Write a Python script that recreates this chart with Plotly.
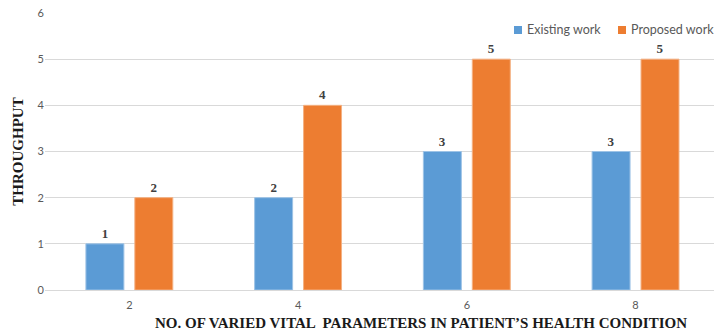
import plotly.graph_objects as go

# Throughput by number of varied vital parameters
categories = ["2", "4", "6", "8"]
existing_work = [1, 2, 3, 3]
proposed_work = [2, 4, 5, 5]
y_ticks = [0, 1, 2, 3, 4, 5, 6]
series_names = ["Existing work", "Proposed work"]

BLUE = "#5B9BD5"
ORANGE = "#ED7D31"
GRID = "#D9D9D9"
TICK = "#595959"
SANS = "Lato, Liberation Sans, sans-serif"
SERIF = "Liberation Serif, Times New Roman, serif"
LABEL_FONT = dict(family=SERIF, size=13, color="#404040")

# plot-area geometry in pixels (figure is 714 x 334)
W, H = 714, 334
L, T, B = 45, 13, 44
PW, PH = W - L, H - T - B


def px_x(p):
    return (p - L) / PW


def px_y(p):
    return (H - B - p) / PH


fig = go.Figure()
for name, vals, col, edge in [
    (series_names[0], existing_work, BLUE, "#9DC3E6"),
    (series_names[1], proposed_work, ORANGE, "#F4B183"),
]:
    fig.add_trace(go.Bar(
        x=categories, y=vals, name=name,
        marker=dict(color=col, line=dict(color=edge, width=1)),
        text=[f"<b>{v}</b>" for v in vals], textposition="outside",
        textfont=LABEL_FONT, cliponaxis=False, showlegend=False,
    ))

# compact legend in the top-right corner
shapes = []
annotations = []
for name, col, sq_left in [(series_names[0], BLUE, 514), (series_names[1], ORANGE, 618)]:
    shapes.append(dict(
        type="rect", xref="paper", yref="paper",
        x0=px_x(sq_left), x1=px_x(sq_left + 8), y0=px_y(34), y1=px_y(26),
        fillcolor=col, line=dict(width=0),
    ))
    annotations.append(dict(
        text=name, xref="paper", yref="paper",
        x=px_x(sq_left + 11), y=px_y(30), xanchor="left", yanchor="middle",
        showarrow=False, font=dict(family=SANS, size=12.5, color=TICK),
    ))

annotations.append(dict(
    text="<b>NO. OF VARIED VITAL  PARAMETERS IN PATIENT\u2019S HEALTH CONDITION</b>",
    xref="paper", yref="paper", x=px_x(421), y=px_y(323),
    xanchor="center", yanchor="middle", showarrow=False,
    font=dict(family=SERIF, size=15, color="#1a1a1a"),
))

fig.update_layout(
    width=W, height=H,
    margin=dict(l=L, r=0, t=T, b=B),
    paper_bgcolor="white", plot_bgcolor="white",
    barmode="group", bargap=0.42, bargroupgap=0.224,
    xaxis=dict(
        type="category", range=[-0.5, 3.465],
        showgrid=False, showline=True, linecolor=GRID, linewidth=1,
        ticks="", tickfont=dict(family=SANS, size=11, color=TICK),
        ticklabelstandoff=5,
    ),
    yaxis=dict(
        range=[0, 6], tickvals=y_ticks,
        showgrid=True, gridcolor=GRID, gridwidth=1, zeroline=False,
        showline=False, ticks="",
        tickfont=dict(family=SANS, size=11, color=TICK),
        title=dict(text="<b>THROUGHPUT</b>",
                   font=dict(family=SERIF, size=15, color="#1a1a1a"),
                   standoff=10),
    ),
    shapes=shapes,
    annotations=annotations,
)

fig.write_html("out.html")
